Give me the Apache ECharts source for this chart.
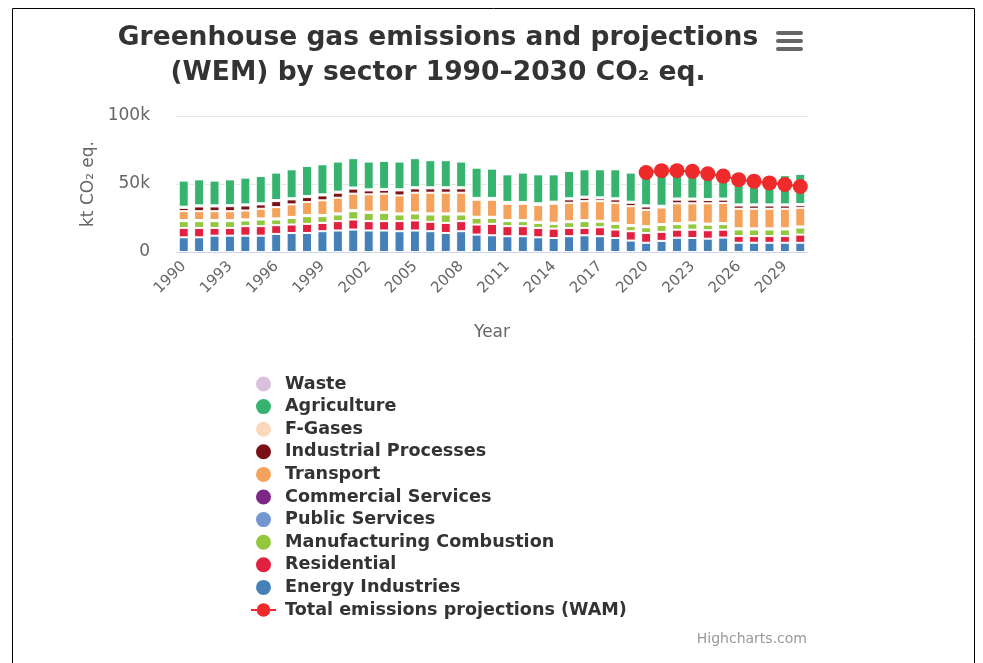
<!DOCTYPE html>
<html>
<head>
<meta charset="utf-8">
<script src="https://cdn.jsdelivr.net/npm/echarts@6/dist/echarts.min.js"></script>
<style>
html,body{margin:0;padding:0;background:#fff;}
#chart{width:983px;height:663px;}
</style>
</head>
<body>
<div id="chart"></div>
<script>
// Values in thousands of kt CO2 eq. (k)
const years = ['1990','1991','1992','1993','1994','1995','1996','1997','1998','1999','2000','2001','2002','2003','2004','2005','2006','2007','2008','2009','2010','2011','2012','2013','2014','2015','2016','2017','2018','2019','2020','2021','2022','2023','2024','2025','2026','2027','2028','2029','2030'];
const energyIndustries = [10.8,10.8,12.0,12.0,12.0,12.0,13.3,14.0,14.0,15.3,15.8,16.5,15.8,15.8,15.3,15.8,15.3,14.0,15.3,12.8,12.3,11.6,11.6,10.8,10.3,11.6,12.3,11.6,10.3,8.4,6.8,8.2,10.5,10.3,9.8,10.6,6.8,6.8,6.8,6.8,6.8];
const residential = [6.9,6.9,5.7,5.7,7.0,7.0,6.4,6.2,6.7,6.1,6.9,7.4,6.9,6.9,7.4,7.4,6.9,7.4,7.4,7.4,8.4,7.4,7.4,6.9,6.9,6.1,5.4,6.6,6.2,6.9,7.2,6.6,5.9,6.1,6.2,5.8,4.9,4.9,4.9,4.9,6.0];
const manufacturingCombustion = [5.0,5.0,5.0,5.0,4.2,4.9,4.2,4.8,5.7,5.0,4.9,6.1,6.1,6.1,4.9,5.1,5.4,6.2,4.9,4.9,4.4,3.7,3.7,3.7,3.5,4.2,5.0,4.0,4.2,3.7,4.2,5.0,4.1,4.6,4.1,4.1,4.9,4.9,4.9,4.9,5.2];
const publicServices = [0.4,0.4,0.4,0.4,0.4,0.4,0.4,0.4,0.4,0.4,0.4,0.4,0.4,0.4,0.4,0.4,0.4,0.4,0.4,0.4,0.4,0.4,0.4,0.4,0.4,0.4,0.4,0.4,0.4,0.4,0.4,0.4,0.4,0.4,0.4,0.4,0.4,0.4,0.4,0.4,0.4];
const commercialServices = [0.4,0.4,0.4,0.4,0.4,0.4,0.4,0.4,0.4,0.4,0.4,0.4,0.4,0.4,0.4,0.4,0.4,0.4,0.4,0.4,0.4,0.4,0.4,0.4,0.4,0.4,0.4,0.4,0.4,0.4,0.4,0.4,0.4,0.4,0.4,0.4,0.4,0.4,0.4,0.4,0.4];
const transport = [6.5,6.5,6.5,6.5,6.5,7.1,8.3,9.2,9.5,10.8,11.5,12.1,12.8,13.3,13.2,14.5,15.2,15.2,15.2,12.5,12.5,12.0,12.0,12.3,14.0,13.5,13.9,14.4,14.7,13.9,12.0,12.1,14.5,14.0,14.9,14.8,14.4,14.4,14.4,14.4,13.7];
const industrialProcesses = [2.5,3.5,3.5,3.7,3.7,3.2,4.4,3.7,3.7,3.6,3.7,3.7,2.9,2.7,3.7,3.2,3.2,3.2,3.2,0.6,0.6,0.5,0.5,0.5,0.7,2.5,2.5,2.0,2.5,2.5,2.5,0.5,2.7,2.7,2.4,2.4,2.4,2.4,2.4,2.4,2.0];
const fGases = [0.8,0.8,0.8,0.8,0.8,0.8,0.8,0.8,0.8,0.8,0.8,0.8,0.8,0.8,0.8,0.8,0.8,0.8,0.8,0.8,0.8,0.8,0.8,0.8,0.8,0.8,0.8,0.8,0.8,0.8,0.8,0.8,0.8,0.8,0.8,0.8,0.8,0.8,0.8,0.8,0.8];
const agriculture = [19.2,19.1,18.2,18.9,19.7,20.1,20.2,21.3,22.1,22.1,22.1,21.6,20.4,20.6,20.4,21.4,19.9,19.9,18.9,22.2,21.5,20.3,21.6,21.3,20.1,20.1,20.1,20.6,21.3,21.4,20.7,23.0,19.7,19.7,18.5,17.7,19.0,20.0,21.0,21.5,22.2];
const waste = [0.3,0.3,1.0,0.3,1.0,1.0,1.0,0.3,0.3,0.3,0.3,0.3,0.3,1.0,0.3,0.3,0.3,0.3,0.3,0.3,0.3,0.2,0.2,0.2,0.2,0.2,0.2,0.2,0.2,0.2,0.2,0.2,0.2,0.2,0.2,0.2,0.2,0.2,0.2,0.2,0.2];
const totalWAM = [null,null,null,null,null,null,null,null,null,null,null,null,null,null,null,null,null,null,null,null,null,null,null,null,null,null,null,null,null,null,58.5,59.8,59.8,59.3,57.5,55.8,53.2,52.1,50.8,49.6,48.2];
const yTicks = [0, 50, 100];

const chart = echarts.init(document.getElementById('chart'));
const FONT = 'DejaVu Sans';

function barSeries(name, data, color) {
  return {
    name: name, type: 'bar', stack: 'total', data: data, barWidth: 10,
    itemStyle: { color: color, borderColor: '#ffffff', borderWidth: 1 },
    emphasis: { disabled: true }
  };
}

const legendNames = ['Waste','Agriculture','F-Gases','Industrial Processes','Transport','Commercial Services','Public Services','Manufacturing Combustion','Residential','Energy Industries','Total emissions projections (WAM)'];

chart.setOption({
  animation: false,
  backgroundColor: '#ffffff',
  textStyle: { fontFamily: FONT },
  title: {
    text: 'Greenhouse gas emissions and projections\n(WEM) by sector 1990\u20132030 CO\u2082 eq.',
    left: 433, top: 16, textAlign: 'center',
    textStyle: { fontFamily: FONT, fontSize: 26.5, fontWeight: 'bold', color: '#333333', lineHeight: 35 }
  },
  grid: { left: 176, right: 175, top: 116, bottom: 411, containLabel: false },
  legend: {
    orient: 'vertical', left: 250, top: 374, padding: 0,
    itemWidth: 25, itemHeight: 17, itemGap: 2.6,
    selectedMode: false,
    textStyle: { fontFamily: FONT, fontSize: 17.6, fontWeight: 'bold', color: '#333333', lineHeight: 20, padding: [0, 0, 0, 4] },
    data: legendNames.map(function (n, i) {
      return i < 10 ? { name: n, icon: 'circle' } : { name: n };
    })
  },
  xAxis: {
    type: 'category', data: years,
    name: 'Year', nameLocation: 'middle', nameGap: 72,
    nameTextStyle: { fontFamily: FONT, fontSize: 17, color: '#666666' },
    axisLine: { lineStyle: { color: '#ccd6eb', width: 1 } },
    axisTick: { show: false },
    axisLabel: { interval: 2, rotate: 45, fontSize: 15, color: '#666666', margin: 12 }
  },
  yAxis: {
    type: 'value', min: 0, max: 100, interval: 50,
    name: 'kt CO\u2082 eq.', nameLocation: 'middle', nameGap: 78, nameRotate: 90,
    nameTextStyle: { fontFamily: FONT, fontSize: 17, color: '#666666' },
    axisLabel: { fontSize: 17, color: '#666666', margin: 26,
      formatter: function (v) { return yTicks.indexOf(v) >= 0 ? (v === 0 ? '0' : v + 'k') : ''; } },
    splitLine: { lineStyle: { color: '#e6e6e6', width: 1 } }
  },
  series: [
    barSeries('Energy Industries', energyIndustries, '#4581b8'),
    barSeries('Residential', residential, '#e2203f'),
    barSeries('Manufacturing Combustion', manufacturingCombustion, '#93c83e'),
    barSeries('Public Services', publicServices, '#7396d0'),
    barSeries('Commercial Services', commercialServices, '#7b2785'),
    barSeries('Transport', transport, '#f5a25c'),
    barSeries('Industrial Processes', industrialProcesses, '#7a1215'),
    barSeries('F-Gases', fGases, '#fcd8bb'),
    barSeries('Agriculture', agriculture, '#35b36f'),
    barSeries('Waste', waste, '#d9c1dc'),
    {
      name: 'Total emissions projections (WAM)', type: 'line', data: totalWAM,
      symbol: 'circle', symbolSize: 15, showAllSymbol: true, showSymbol: true,
      lineStyle: { color: '#ee2a2a', width: 2 },
      itemStyle: { color: '#ee2a2a' },
      emphasis: { disabled: true }, z: 10
    }
  ],
  graphic: [
    { type: 'rect', shape: { x: 12.5, y: 8.5, width: 962, height: 700 }, style: { fill: 'none', stroke: '#000000', lineWidth: 1 }, silent: true },
    { type: 'rect', shape: { x: 776, y: 31, width: 27, height: 4, r: 2 }, style: { fill: '#666666' } },
    { type: 'rect', shape: { x: 776, y: 39, width: 27, height: 4, r: 2 }, style: { fill: '#666666' } },
    { type: 'rect', shape: { x: 776, y: 47, width: 27, height: 4, r: 2 }, style: { fill: '#666666' } },
    { type: 'text', right: 176, top: 632, style: { text: 'Highcharts.com', fontFamily: FONT, fontSize: 14, fill: '#999999' } }
  ]
});
</script>
</body>
</html>
